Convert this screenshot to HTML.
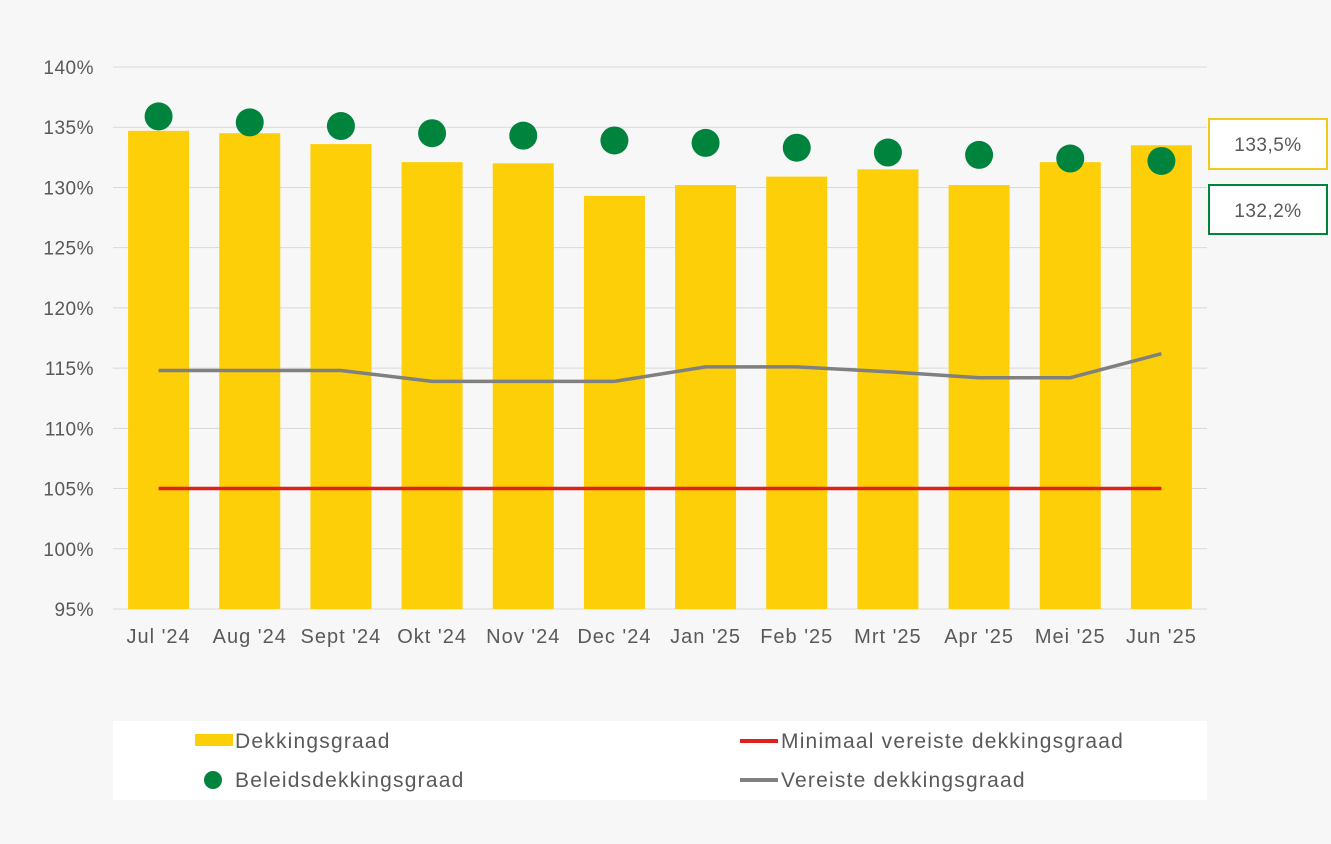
<!DOCTYPE html>
<html><head><meta charset="utf-8"><style>
body{margin:0;background:#f7f7f7;font-family:"Liberation Sans",sans-serif;}
svg text{font-family:"Liberation Sans",sans-serif;fill:#595959;}
</style></head><body>
<svg width="1331" height="839">
<rect width="1331" height="839" fill="#f7f7f7"/>
<g id="grid"></g><g id="bars"></g><g id="lines"></g><g id="dots"></g><g id="xlabels"></g>
<rect x="1209" y="119" width="118" height="50" fill="#fff" stroke="#F2C81C" stroke-width="2"/>
<text x="1268" y="151" text-anchor="middle" font-size="19" letter-spacing="0.5">133,5%</text>
<rect x="1209" y="185" width="118" height="49" fill="#fff" stroke="#00843D" stroke-width="2"/>
<text x="1268" y="217" text-anchor="middle" font-size="19" letter-spacing="0.5">132,2%</text>
<g>
<rect x="113" y="721" width="1094" height="79" fill="#fff"/>
<rect x="195" y="734" width="38" height="12" fill="#FCCF08"/>
<text x="235" y="748" font-size="21" letter-spacing="1.2">Dekkingsgraad</text>
<circle cx="213" cy="780" r="9" fill="#00843D"/>
<text x="235" y="787" font-size="21" letter-spacing="1.2">Beleidsdekkingsgraad</text>
<line x1="740" y1="741" x2="778" y2="741" stroke="#E0201A" stroke-width="4"/>
<text x="781" y="748" font-size="21" letter-spacing="1.2">Minimaal vereiste dekkingsgraad</text>
<line x1="740" y1="780" x2="778" y2="780" stroke="#808080" stroke-width="4"/>
<text x="781" y="787" font-size="21" letter-spacing="1.2">Vereiste dekkingsgraad</text>
</g>
</svg>
<script>
const categories=["Jul '24","Aug '24","Sept '24","Okt '24","Nov '24","Dec '24","Jan '25","Feb '25","Mrt '25","Apr '25","Mei '25","Jun '25"];
const dekkingsgraad=[134.7,134.5,133.6,132.1,132.0,129.3,130.2,130.9,131.5,130.2,132.1,133.5];
const beleids=[135.9,135.4,135.1,134.5,134.3,133.9,133.7,133.3,132.9,132.7,132.4,132.2];
const vereiste=[114.8,114.8,114.8,113.9,113.9,113.9,115.1,115.1,114.7,114.2,114.2,116.2];
const minimaal=[105,105,105,105,105,105,105,105,105,105,105,105];
const yTicks=[95,100,105,110,115,120,125,130,135,140];
const NS="http://www.w3.org/2000/svg";
const x0=113,x1=1207,yMin=95,yMax=140,yTop=67,yBot=609;
const bw=(x1-x0)/categories.length;
function xs(i){return x0+bw*(i+0.5);}
function ys(v){return yBot-(v-yMin)/(yMax-yMin)*(yBot-yTop);}
function mk(tag,attrs,parent){const e=document.createElementNS(NS,tag);for(const k in attrs)e.setAttribute(k,attrs[k]);document.getElementById(parent).appendChild(e);return e;}
yTicks.forEach(t=>{
 const l=mk('line',{x1:x0,x2:x1,y1:ys(t),y2:ys(t),stroke:'#d9d9d9','stroke-width':1},'grid');
 
 
 const tx=mk('text',{x:94,y:ys(t)+7,'text-anchor':'end','font-size':19,'letter-spacing':0.5},'grid');
 tx.textContent=t+'%';
 
 
});
categories.forEach((c,i)=>{
 const b=mk('rect',{x:xs(i)-30.5,y:ys(dekkingsgraad[i]),width:61,height:ys(yMin)-ys(dekkingsgraad[i]),fill:'#FCCF08'},'bars');
 
 
 const tx=mk('text',{x:xs(i),y:643,'text-anchor':'middle','font-size':20,'letter-spacing':1},'xlabels');
 tx.textContent=c;
 
 
 const d=mk('circle',{cx:xs(i),cy:ys(beleids[i]),r:14,fill:'#00843D'},'dots');
 
 
});
const p1=mk('polyline',{points:vereiste.map((v,i)=>xs(i)+','+ys(v)).join(' '),fill:'none',stroke:'#808080','stroke-width':3.5},'lines');


const p2=mk('polyline',{points:minimaal.map((v,i)=>xs(i)+','+ys(v)).join(' '),fill:'none',stroke:'#E0201A','stroke-width':3.5},'lines');


</script>
</body></html>
